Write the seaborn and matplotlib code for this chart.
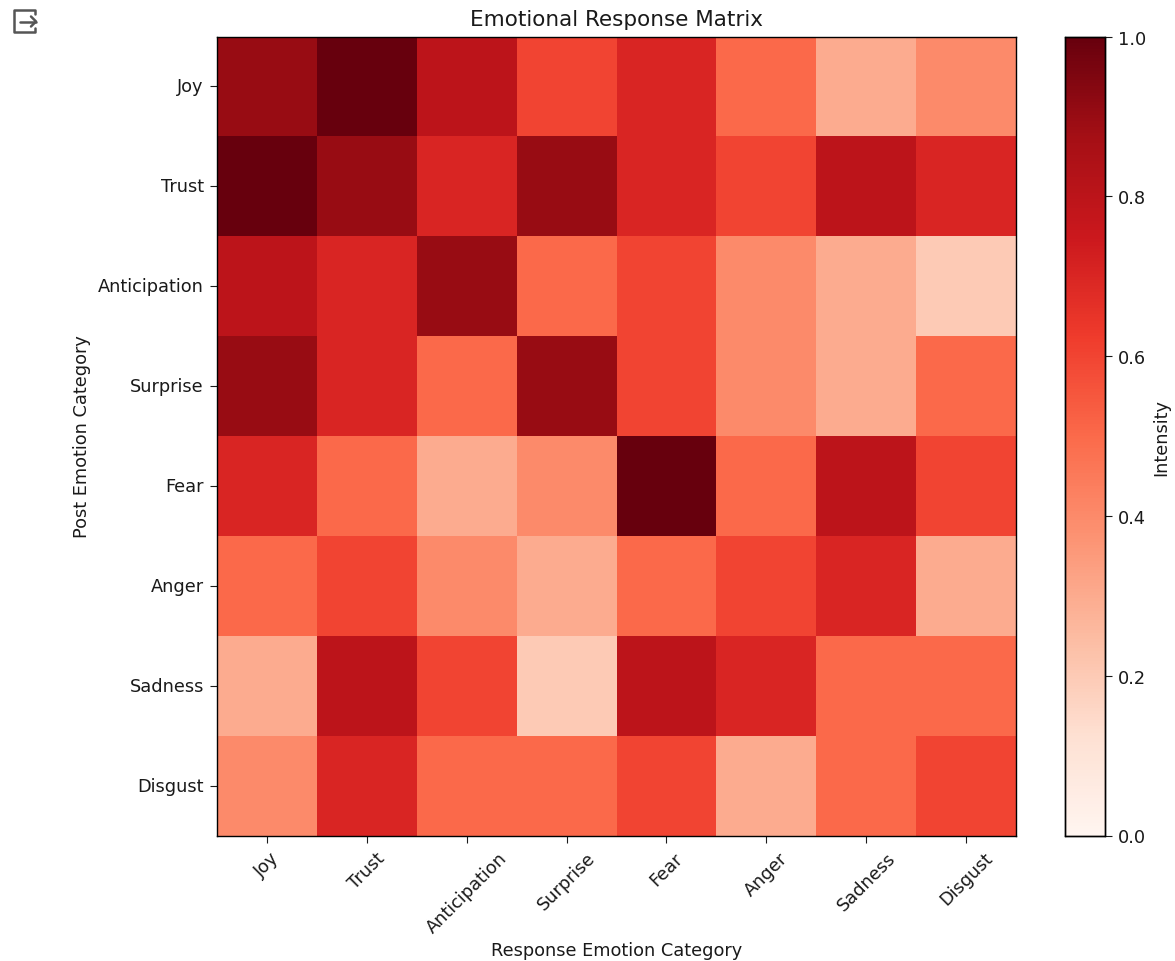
import matplotlib
matplotlib.use("Agg")
import matplotlib.pyplot as plt
from matplotlib.lines import Line2D
import seaborn as sns
import numpy as np

categories = ["Joy", "Trust", "Anticipation", "Surprise", "Fear", "Anger", "Sadness", "Disgust"]
joy = [0.9, 1.0, 0.8, 0.6, 0.7, 0.5, 0.3, 0.4]
trust = [1.0, 0.9, 0.7, 0.9, 0.7, 0.6, 0.8, 0.7]
anticipation = [0.8, 0.7, 0.9, 0.5, 0.6, 0.4, 0.3, 0.2]
surprise = [0.9, 0.7, 0.5, 0.9, 0.6, 0.4, 0.3, 0.5]
fear = [0.7, 0.5, 0.3, 0.4, 1.0, 0.5, 0.8, 0.6]
anger = [0.5, 0.6, 0.4, 0.3, 0.5, 0.6, 0.7, 0.3]
sadness = [0.3, 0.8, 0.6, 0.2, 0.8, 0.7, 0.5, 0.5]
disgust = [0.4, 0.7, 0.5, 0.5, 0.6, 0.3, 0.5, 0.6]
matrix = np.array([joy, trust, anticipation, surprise, fear, anger, sadness, disgust])

W, H = 1175, 962
fig = plt.figure(figsize=(W / 100, H / 100), dpi=100)
ax = fig.add_axes([217/W, 1-836.5/H, 799/W, 799/H])
cax = fig.add_axes([1065/W, 1-836.5/H, 40/W, 799/H])
sns.heatmap(matrix, ax=ax, cbar_ax=cax, cmap="Reds", vmin=0, vmax=1, square=False,
            xticklabels=categories, yticklabels=categories,
            cbar_kws={"label": "Intensity"})
for axis in (ax, cax):
    for s in axis.spines.values():
        s.set_visible(True)
        s.set_linewidth(1)
ax.tick_params(axis="both", labelsize=12.8, length=5, pad=4.5, colors="#1a1a1a")
cax.tick_params(labelsize=12.8, length=5, pad=4.5, colors="#1a1a1a")
plt.setp(ax.get_xticklabels(), rotation=45, ha="center")
plt.setp(ax.get_yticklabels(), rotation=0)
ax.set_title("Emotional Response Matrix", fontsize=15.5, pad=8.5, color="#1a1a1a")
ax.set_xlabel("Response Emotion Category", fontsize=12.8, labelpad=3.5, color="#1a1a1a")
ax.set_ylabel("Post Emotion Category", fontsize=12.8, labelpad=5, color="#1a1a1a")
cax.set_ylabel("Intensity", fontsize=12.8, labelpad=4, color="#1a1a1a")

# Notebook output icon in the top-left corner, drawn as line art
def px_line(xs, ys):
    fig.add_artist(Line2D([x / W for x in xs], [1 - y / H for y in ys],
                          color="#555555", lw=1.8, solid_capstyle="round", solid_joinstyle="round"))
px_line([35, 35, 14, 14, 35, 35], [15, 11, 11, 33, 33, 29])
px_line([20, 36], [22.5, 22.5])
px_line([31, 36, 31], [17.5, 22.5, 27.5])

fig.savefig("out.png", dpi=100)
